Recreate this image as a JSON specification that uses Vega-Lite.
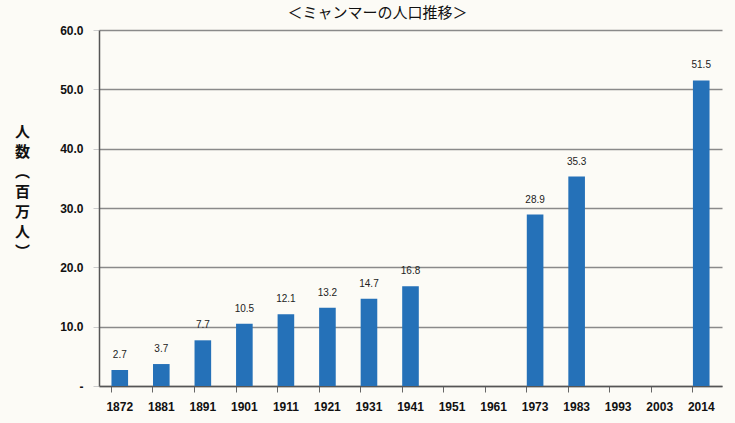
{
  "$schema": "https://vega.github.io/schema/vega-lite/v6.json",
  "autosize": {"type": "none"},
  "width": 623,
  "height": 356,
  "padding": {"left": 99, "top": 30, "right": 13, "bottom": 37},
  "background": "#FCFBF6",
  "title": {
    "text": "＜ミャンマーの人口推移＞",
    "font": "Noto Sans CJK JP",
    "fontSize": 15,
    "fontWeight": "normal",
    "color": "#111111",
    "offset": 3,
    "anchor": "middle",
    "dx": -33
  },
  "data": {
    "values": [
      {"year": "1872", "population": 2.7},
      {"year": "1881", "population": 3.7},
      {"year": "1891", "population": 7.7},
      {"year": "1901", "population": 10.5},
      {"year": "1911", "population": 12.1},
      {"year": "1921", "population": 13.2},
      {"year": "1931", "population": 14.7},
      {"year": "1941", "population": 16.8},
      {"year": "1951", "population": null},
      {"year": "1961", "population": null},
      {"year": "1973", "population": 28.9},
      {"year": "1983", "population": 35.3},
      {"year": "1993", "population": null},
      {"year": "2003", "population": null},
      {"year": "2014", "population": 51.5}
    ]
  },
  "encoding": {
    "x": {
      "field": "year",
      "type": "nominal",
      "sort": null,
      "scale": {
        "domain": ["1872", "1881", "1891", "1901", "1911", "1921", "1931", "1941", "1951", "1961", "1973", "1983", "1993", "2003", "2014"],
        "paddingInner": 0.6,
        "paddingOuter": 0.3
      },
      "axis": {
        "title": null,
        "labelAngle": 0,
        "labelFont": "Liberation Sans",
        "labelFontSize": 12,
        "labelFontWeight": "bold",
        "labelColor": "#111111",
        "labelPadding": 9,
        "bandPosition": 0,
        "ticks": true,
        "tickSize": 6,
        "tickColor": "#666666",
        "domainColor": "#555555",
        "domainWidth": 1.5,
        "grid": false
      }
    },
    "y": {
      "field": "population",
      "type": "quantitative",
      "scale": {"domain": [0, 60], "nice": false},
      "axis": {
        "values": [0, 10, 20, 30, 40, 50, 60],
        "labelExpr": "datum.value == 0 ? '-' : format(datum.value, '.1f')",
        "labelFont": "Liberation Sans",
        "labelFontSize": 12,
        "labelFontWeight": "bold",
        "labelColor": "#111111",
        "labelPadding": 10,
        "tickSize": 6,
        "tickColor": "#cccccc",
        "domainColor": "#555555",
        "domainWidth": 1.5,
        "grid": true,
        "gridColor": "#8a8a8a",
        "gridWidth": 1.5,
        "title": ["人", "数", "︵", "百", "万", "人", "︶"],
        "titleAngle": 0,
        "titleFont": "Noto Sans CJK JP",
        "titleFontSize": 15,
        "titleFontWeight": "bold",
        "titleColor": "#111111",
        "titleAlign": "center",
        "titleBaseline": "top",
        "titleLineHeight": 20,
        "titleX": -77,
        "titleY": 94
      }
    }
  },
  "layer": [
    {
      "mark": {"type": "bar", "color": "#2571B8"}
    },
    {
      "transform": [{"filter": "datum.population != null"}],
      "mark": {
        "type": "text",
        "baseline": "bottom",
        "dy": -10,
        "font": "Liberation Sans",
        "fontSize": 10,
        "color": "#222222"
      },
      "encoding": {
        "text": {"field": "population", "type": "quantitative", "format": ".1f"}
      }
    }
  ],
  "config": {
    "view": {"stroke": null}
  }
}
